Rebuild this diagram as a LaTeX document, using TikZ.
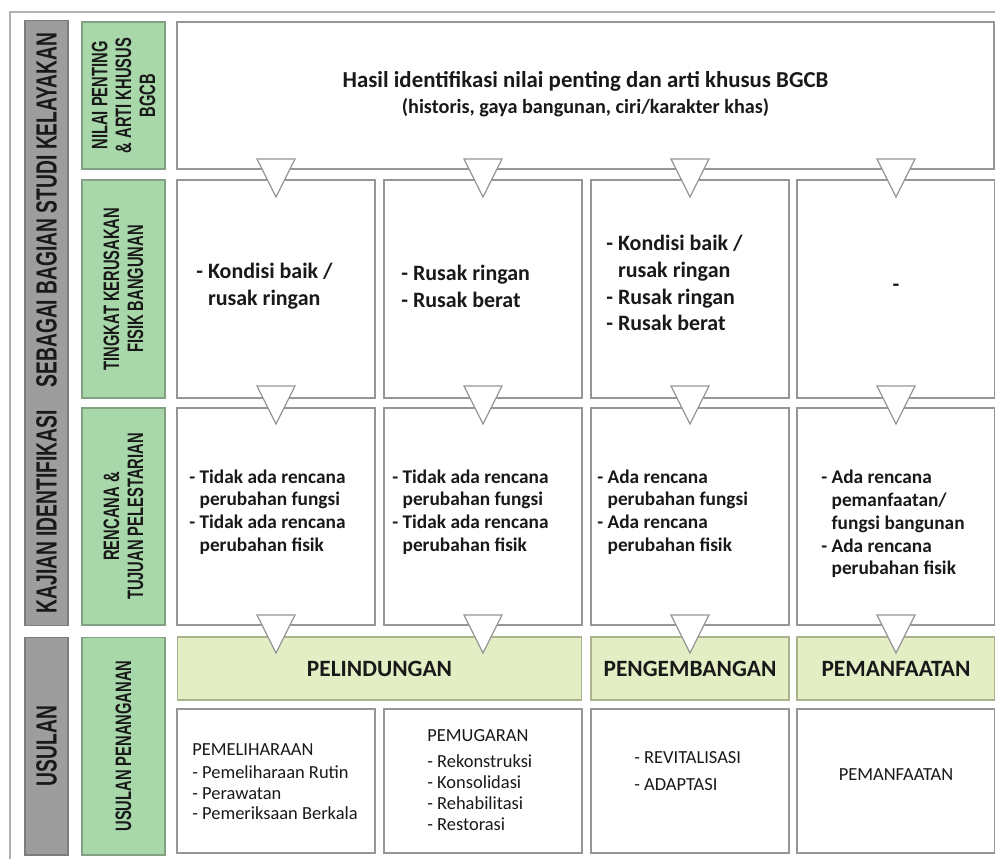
\documentclass[tikz,border=0pt]{standalone}
\usepackage{fontspec}
\setmainfont{Carlito}
\newfontfamily\narrowfont[FakeStretch=0.66]{Liberation Sans}
\usetikzlibrary{positioning}

\definecolor{framegray}{RGB}{178,178,178}
\definecolor{cellline}{RGB}{150,150,150}
\definecolor{barfill}{RGB}{157,157,157}
\definecolor{barline}{RGB}{125,125,125}
\definecolor{labelgreen}{RGB}{168,216,170}
\definecolor{labelline}{RGB}{130,160,132}
\definecolor{actfill}{RGB}{228,238,196}
\definecolor{actline}{RGB}{170,180,140}
\definecolor{ink}{RGB}{25,25,25}

\newcommand{\ind}{\hphantom{- }}

\begin{document}
\begin{tikzpicture}[x=0.02cm, y=-0.02cm, text=ink,
    graybar/.style={draw=barline, fill=barfill, line width=0.6pt, rotate=90, inner sep=0pt,
      minimum height=0.86cm, font=\narrowfont\bfseries\fontsize{16.6}{19}\selectfont},
    greenlabel/.style={draw=labelline, fill=labelgreen, line width=0.6pt, rotate=90, inner sep=0pt,
      minimum height=1.66cm, align=center, font=\narrowfont\bfseries\fontsize{12.7}{13.6}\selectfont},
    cell/.style={draw=cellline, fill=white, line width=0.7pt, inner sep=0pt, minimum width=3.96cm},
    act/.style={draw=actline, fill=actfill, line width=0.6pt, inner sep=0pt, minimum height=1.26cm,
      font=\bfseries\fontsize{13.3}{15}\selectfont},
    bigtxt/.style={align=left, anchor=west, inner sep=0pt, font=\bfseries\fontsize{12.5}{15.3}\selectfont},
    midtxt/.style={align=left, anchor=west, inner sep=0pt, font=\bfseries\fontsize{11}{13}\selectfont},
    smalltxt/.style={align=left, anchor=west, inner sep=0pt, font=\fontsize{10.5}{11.8}\selectfont},
    tri/.style={draw=cellline, fill=white, line width=0.7pt, line join=miter}]

    \useasboundingbox (0,0) rectangle (995,859);

    % outer frame
    \draw[framegray, line width=0.8pt] (10,859) -- (10,12) -- (995,12);

    % left side labels
    \node[graybar, minimum width=12.1cm] (kajian) at (46.5,323)
        {KAJIAN IDENTIFIKASI\hspace{0.6em} SEBAGAI BAGIAN STUDI KELAYAKAN};
    \node[graybar, minimum width=4.36cm] (usulan) at (46.5,746) {USULAN};

    \node[greenlabel, minimum width=2.94cm] (nilai) at (123.5,95.5) {NILAI PENTING\\\& ARTI KHUSUS\\BGCB};
    \node[greenlabel, minimum width=4.36cm] (tingkat) at (123.5,289) {TINGKAT KERUSAKAN\\FISIK BANGUNAN};
    \node[greenlabel, minimum width=4.34cm] (rencana) at (123.5,516.5) {RENCANA \&\\TUJUAN PELESTARIAN};
    \node[greenlabel, minimum width=4.36cm] (penanganan) at (123.5,746) {USULAN PENANGANAN};

    % row 1
    \node[cell, minimum width=16.34cm, minimum height=2.94cm] (hasil) at (585.5,95.5) {};
    \node[align=center, font=\bfseries\fontsize{13}{16}\selectfont] (judul) at (585.5,81)
        {Hasil identifikasi nilai penting dan arti khusus BGCB};
    \node[align=center, font=\bfseries\fontsize{11.5}{14}\selectfont] (subjudul) at (585.5,108)
        {(historis, gaya bangunan, ciri/karakter khas)};

    % row 2
    \node[cell, minimum height=4.36cm] (k1) at (276,289) {};
    \node[cell, minimum height=4.36cm] (k2) at (483,289) {};
    \node[cell, minimum height=4.36cm] (k3) at (690,289) {};
    \node[cell, minimum height=4.36cm] (k4) at (896,289) {};
    \node[bigtxt] (tk1) at (196,286) {- Kondisi baik /\\\ind rusak ringan};
    \node[bigtxt] (tk2) at (401,286) {- Rusak ringan\\- Rusak berat};
    \node[bigtxt] (tk3) at (606,283) {- Kondisi baik /\\\ind rusak ringan\\- Rusak ringan\\- Rusak berat};
    \node[bigtxt, anchor=center] (tk4) at (896,288) {-};

    % row 3
    \node[cell, minimum height=4.34cm] (r1) at (276,516.5) {};
    \node[cell, minimum height=4.34cm] (r2) at (483,516.5) {};
    \node[cell, minimum height=4.34cm] (r3) at (690,516.5) {};
    \node[cell, minimum height=4.34cm] (r4) at (896,516.5) {};
    \node[midtxt] (tr1) at (189,512) {- Tidak ada rencana\\\ind perubahan fungsi\\- Tidak ada rencana\\\ind perubahan fisik};
    \node[midtxt] (tr2) at (392,512) {- Tidak ada rencana\\\ind perubahan fungsi\\- Tidak ada rencana\\\ind perubahan fisik};
    \node[midtxt] (tr3) at (597,512) {- Ada rencana\\\ind perubahan fungsi\\- Ada rencana\\\ind perubahan fisik};
    \node[midtxt] (tr4) at (821,524) {- Ada rencana\\\ind pemanfaatan/\\\ind fungsi bangunan\\- Ada rencana\\\ind perubahan fisik};

    % row 4
    \node[act, minimum width=8.1cm] (pelindungan) at (379.5,668.5) {PELINDUNGAN};
    \node[act, minimum width=3.96cm] (pengembangan) at (690,668.5) {PENGEMBANGAN};
    \node[act, minimum width=3.96cm] (pemanfaatan) at (896,668.5) {PEMANFAATAN};

    % row 5
    \node[cell, minimum height=2.88cm] (u1) at (276,781) {};
    \node[cell, minimum height=2.88cm] (u2) at (483,781) {};
    \node[cell, minimum height=2.88cm] (u3) at (690,781) {};
    \node[cell, minimum height=2.88cm] (u4) at (896,781) {};
    \node[smalltxt] (tu1) at (192,782) {PEMELIHARAAN\\[1pt]- Pemeliharaan Rutin\\- Perawatan\\- Pemeriksaan Berkala};
    \node[smalltxt] (tu2) at (427,780) {PEMUGARAN\\[3pt]- Rekonstruksi\\- Konsolidasi\\- Rehabilitasi\\- Restorasi};
    \node[smalltxt, font=\fontsize{10.5}{15.3}\selectfont] (tu3) at (634,771) {- REVITALISASI\\- ADAPTASI};
    \node[smalltxt, anchor=center] (tu4) at (896,775) {PEMANFAATAN};

    % down triangles between the rows
    \foreach \cx in {276,483,690,896}
        \foreach \ty in {159,386,615}
            \draw[tri] (\cx-19,\ty) -- (\cx+19,\ty) -- (\cx,\ty+38) -- cycle;

\end{tikzpicture}
\end{document}
